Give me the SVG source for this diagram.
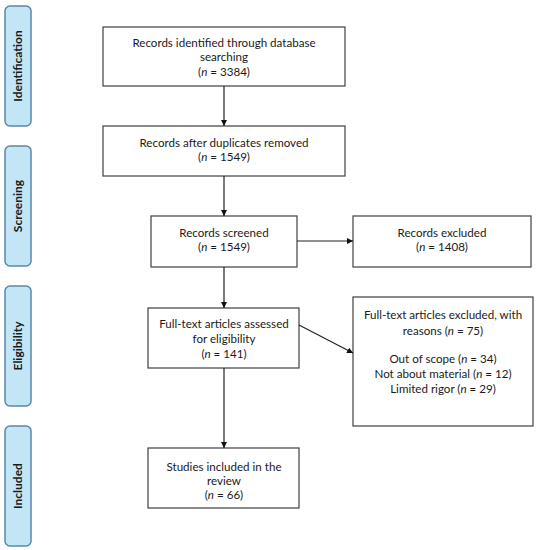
<svg xmlns="http://www.w3.org/2000/svg" width="539" height="550" viewBox="0 0 539 550">
<style>
.box{fill:#fff;stroke:#404040;stroke-width:1.2}
.side{fill:#c3e6f7;stroke:#5b86a8;stroke-width:1.5}
.t{font-family:Lato,"Liberation Sans",sans-serif;font-size:11.6px;fill:#1a1a1a;text-anchor:middle}
.s{font-family:Lato,"Liberation Sans",sans-serif;font-size:12px;font-weight:bold;fill:#1a1a1a;text-anchor:middle}
.c{stroke:#222;stroke-width:1.2;fill:none;marker-end:url(#ah)}
</style>
<defs>
<marker id="ah" viewBox="0 0 10 10" refX="10" refY="5" markerWidth="6" markerHeight="6" markerUnits="userSpaceOnUse" orient="auto">
<path d="M0,0 L10,5 L0,10 z" fill="#111"/>
</marker>
</defs>
<g id="phase-identification"><rect class="side" x="5" y="6" width="26" height="120" rx="5"/><text class="s" transform="translate(22,66) rotate(-90)">Identification</text></g>
<g id="phase-screening"><rect class="side" x="5" y="146" width="26" height="120" rx="5"/><text class="s" transform="translate(22,206) rotate(-90)">Screening</text></g>
<g id="phase-eligibility"><rect class="side" x="5" y="286" width="26" height="120" rx="5"/><text class="s" transform="translate(22,346) rotate(-90)">Eligibility</text></g>
<g id="phase-included"><rect class="side" x="5" y="426" width="26" height="120" rx="5"/><text class="s" transform="translate(22,486) rotate(-90)">Included</text></g>
<g id="identified"><rect class="box" x="103" y="27" width="242" height="59"/>
<text class="t" x="224" y="47">Records identified through database</text>
<text class="t" x="224" y="61">searching</text>
<text class="t" x="224" y="76">(<tspan font-style="italic">n</tspan> = 3384)</text></g>
<g id="duplicates"><rect class="box" x="103" y="126" width="242" height="50"/>
<text class="t" x="224" y="147">Records after duplicates removed</text>
<text class="t" x="224" y="161">(<tspan font-style="italic">n</tspan> = 1549)</text></g>
<g id="screened"><rect class="box" x="151" y="216" width="146" height="51"/>
<text class="t" x="224" y="237">Records screened</text>
<text class="t" x="224" y="251">(<tspan font-style="italic">n</tspan> = 1549)</text></g>
<g id="excluded"><rect class="box" x="353" y="216" width="178" height="51"/>
<text class="t" x="442" y="237">Records excluded</text>
<text class="t" x="442" y="251">(<tspan font-style="italic">n</tspan> = 1408)</text></g>
<g id="fulltext"><rect class="box" x="148" y="308" width="151" height="60"/>
<text class="t" x="224" y="328">Full-text articles assessed</text>
<text class="t" x="224" y="343">for eligibility</text>
<text class="t" x="224" y="358">(<tspan font-style="italic">n</tspan> = 141)</text></g>
<g id="fulltext-excluded"><rect class="box" x="353" y="297" width="180" height="129"/>
<text class="t" x="443" y="319">Full-text articles excluded, with</text>
<text class="t" x="443" y="335">reasons (<tspan font-style="italic">n</tspan> = 75)</text>
<text class="t" x="443" y="363">Out of scope (<tspan font-style="italic">n</tspan> = 34)</text>
<text class="t" x="443" y="378">Not about material (<tspan font-style="italic">n</tspan> = 12)</text>
<text class="t" x="443" y="393">Limited rigor (<tspan font-style="italic">n</tspan> = 29)</text></g>
<g id="included"><rect class="box" x="148" y="448" width="151" height="60"/>
<text class="t" x="224" y="471">Studies included in the</text>
<text class="t" x="224" y="485">review</text>
<text class="t" x="224" y="499">(<tspan font-style="italic">n</tspan> = 66)</text></g>
<g id="connectors">
<line class="c" x1="224" y1="86" x2="224" y2="126"/>
<line class="c" x1="224" y1="176" x2="224" y2="216"/>
<line class="c" x1="297" y1="241" x2="353" y2="241"/>
<line class="c" x1="224" y1="267" x2="224" y2="308"/>
<line class="c" x1="299" y1="325" x2="353" y2="353"/>
<line class="c" x1="224" y1="368" x2="224" y2="448"/>
</g>
</svg>
